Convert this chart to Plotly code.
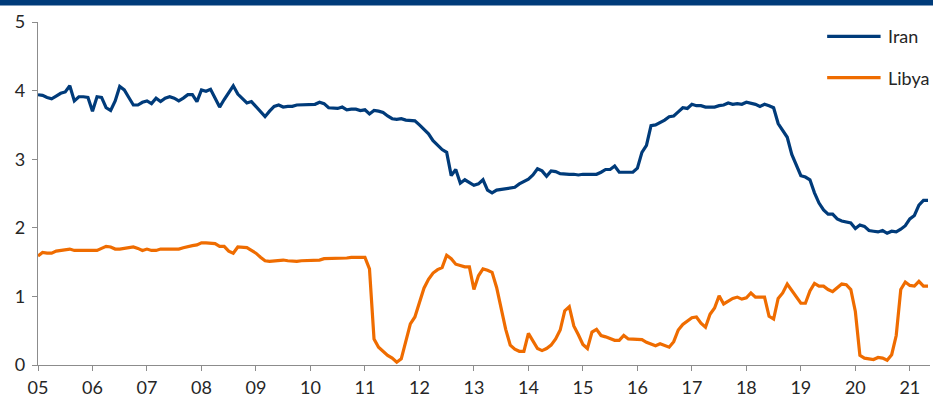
import plotly.graph_objects as go

# Monthly series, Jan 2005 .. May 2021
start_year = 2005
iran = [
    3.94, 3.93, 3.90, 3.88, 3.92, 3.96, 3.98, 4.07, 3.85, 3.91, 3.91, 3.90,
    3.70, 3.91, 3.90, 3.75, 3.71, 3.85, 4.06, 4.01, 3.90, 3.79, 3.79, 3.83,
    3.85, 3.81, 3.89, 3.84, 3.89, 3.91, 3.89, 3.85, 3.89, 3.94, 3.94, 3.84,
    4.01, 3.99, 4.02, 3.89, 3.76, 3.87, 3.96, 4.07, 3.95, 3.89, 3.82, 3.84,
    3.77, 3.69, 3.62, 3.70, 3.77, 3.79, 3.76, 3.77, 3.77, 3.79, 3.79, 3.79,
    3.80, 3.80, 3.83, 3.81, 3.75, 3.74, 3.74, 3.76, 3.72, 3.73, 3.73, 3.71,
    3.72, 3.66, 3.71, 3.70, 3.68, 3.63, 3.59, 3.58, 3.59, 3.57, 3.56, 3.56,
    3.50, 3.44, 3.37, 3.27, 3.20, 3.14, 3.10, 2.76, 2.85, 2.65, 2.70, 2.66,
    2.62, 2.64, 2.70, 2.55, 2.51, 2.55, 2.56, 2.57, 2.59, 2.59, 2.64, 2.68,
    2.71, 2.77, 2.86, 2.83, 2.75, 2.83, 2.82, 2.79, 2.78, 2.78, 2.78, 2.77,
    2.78, 2.78, 2.78, 2.78, 2.81, 2.85, 2.85, 2.90, 2.81, 2.81, 2.81, 2.81,
    2.87, 3.10, 3.20, 3.49, 3.50, 3.53, 3.57, 3.62, 3.63, 3.69, 3.75, 3.74,
    3.80, 3.78, 3.78, 3.76, 3.76, 3.76, 3.78, 3.79, 3.82, 3.80, 3.81, 3.80,
    3.83, 3.82, 3.80, 3.77, 3.80, 3.78, 3.75, 3.52, 3.41, 3.32, 3.07, 2.90,
    2.76, 2.74, 2.70, 2.51, 2.36, 2.26, 2.20, 2.20, 2.13, 2.10, 2.08, 2.07,
    1.99, 2.04, 2.02, 1.96, 1.95, 1.94, 1.96, 1.92, 1.95, 1.94, 1.98, 2.03,
    2.13, 2.18, 2.33, 2.40, 2.40,
]
libya = [
    1.59, 1.64, 1.63, 1.63, 1.66, 1.67, 1.68, 1.69, 1.67, 1.67, 1.67, 1.67,
    1.67, 1.67, 1.70, 1.73, 1.72, 1.69, 1.69, 1.70, 1.72, 1.72, 1.70, 1.67,
    1.69, 1.67, 1.67, 1.69, 1.69, 1.69, 1.69, 1.69, 1.71, 1.73, 1.74, 1.75,
    1.78, 1.78, 1.78, 1.77, 1.73, 1.73, 1.66, 1.63, 1.72, 1.72, 1.71, 1.67,
    1.63, 1.57, 1.52, 1.51, 1.52, 1.52, 1.53, 1.52, 1.51, 1.51, 1.52, 1.52,
    1.52, 1.52, 1.53, 1.55, 1.55, 1.55, 1.55, 1.56, 1.56, 1.57, 1.57, 1.58,
    1.57, 1.40, 0.38, 0.26, 0.20, 0.14, 0.10, 0.04, 0.09, 0.36, 0.60, 0.70,
    0.92, 1.12, 1.25, 1.34, 1.39, 1.42, 1.60, 1.55, 1.47, 1.45, 1.43, 1.43,
    1.10, 1.30, 1.40, 1.38, 1.35, 1.13, 0.80, 0.52, 0.29, 0.23, 0.20, 0.20,
    0.46, 0.34, 0.24, 0.21, 0.24, 0.29, 0.38, 0.51, 0.79, 0.85, 0.57, 0.44,
    0.30, 0.24, 0.48, 0.52, 0.43, 0.41, 0.39, 0.36, 0.36, 0.43, 0.38, 0.38,
    0.38, 0.37, 0.33, 0.31, 0.28, 0.31, 0.29, 0.26, 0.34, 0.51, 0.59, 0.64,
    0.69, 0.70, 0.61, 0.55, 0.74, 0.83, 1.01, 0.89, 0.93, 0.97, 0.99, 0.96,
    0.98, 1.05, 0.99, 0.99, 0.99, 0.71, 0.67, 0.97, 1.05, 1.18, 1.09, 0.99,
    0.90, 0.90, 1.08, 1.19, 1.15, 1.15, 1.10, 1.07, 1.13, 1.18, 1.17, 1.10,
    0.78, 0.14, 0.10, 0.09, 0.08, 0.11, 0.10, 0.07, 0.15, 0.43, 1.10, 1.21,
    1.16, 1.15, 1.22, 1.15, 1.15,
]
tick_years = list(range(2005, 2022))
tick_labels = [f"{y % 100:02d}" for y in tick_years]
y_ticks = [0, 1, 2, 3, 4, 5]

x_iran = [start_year + i / 12 for i in range(len(iran))]
x_libya = [start_year + i / 12 for i in range(len(libya))]

NAVY = "#003b7a"
ORANGE = "#ef6c00"
FONT = "Lato"
TEXT = "#262626"
AXIS_GREY = "#8c8c8c"

fig = go.Figure()
fig.add_trace(go.Scatter(x=x_iran, y=iran, mode="lines", name="Iran",
                         line=dict(color=NAVY, width=3.2), showlegend=False))
fig.add_trace(go.Scatter(x=x_libya, y=libya, mode="lines", name="Libya",
                         line=dict(color=ORANGE, width=3.2), showlegend=False))

# header band across the top of the page
fig.add_shape(type="rect", xref="paper", yref="paper",
              x0=-0.06, x1=1.01, y0=1.048, y1=1.08,
              fillcolor=NAVY, line_width=0, layer="above")

# hand-placed legend
legend_items = [("Iran", NAVY, 0.958), ("Libya", ORANGE, 0.838)]
for label, color, ypos in legend_items:
    fig.add_shape(type="line", xref="paper", yref="paper",
                  x0=0.8847, x1=0.9446, y0=ypos, y1=ypos,
                  line=dict(color=color, width=3.2))
    fig.add_annotation(xref="paper", yref="paper", x=0.951, y=ypos,
                       text=label, showarrow=False, xanchor="left",
                       yanchor="middle",
                       font=dict(family=FONT, size=18, color=TEXT))

fig.update_layout(
    width=933, height=397,
    margin=dict(l=38, r=3, t=22, b=32),
    paper_bgcolor="white", plot_bgcolor="white",
    font=dict(family=FONT, size=18, color=TEXT),
)
fig.update_xaxes(
    range=[2005, 2021.37], tickmode="array", tickvals=tick_years,
    ticktext=tick_labels, showgrid=False, zeroline=False, automargin=False,
    showline=True, linecolor=AXIS_GREY, linewidth=1.3,
    ticks="outside", ticklen=5, tickcolor=AXIS_GREY, tickwidth=1.3,
    ticklabelstandoff=1,
    tickfont=dict(family=FONT, size=18, color=TEXT),
)
fig.update_yaxes(
    range=[0, 5], tickmode="array", tickvals=y_ticks, showgrid=False,
    zeroline=False, automargin=False, showline=True, linecolor=AXIS_GREY,
    linewidth=1.3, ticks="outside", ticklen=5, tickcolor=AXIS_GREY,
    tickwidth=1.3, ticklabelstandoff=3,
    tickfont=dict(family=FONT, size=18, color=TEXT),
)

fig.write_html("out.html")
